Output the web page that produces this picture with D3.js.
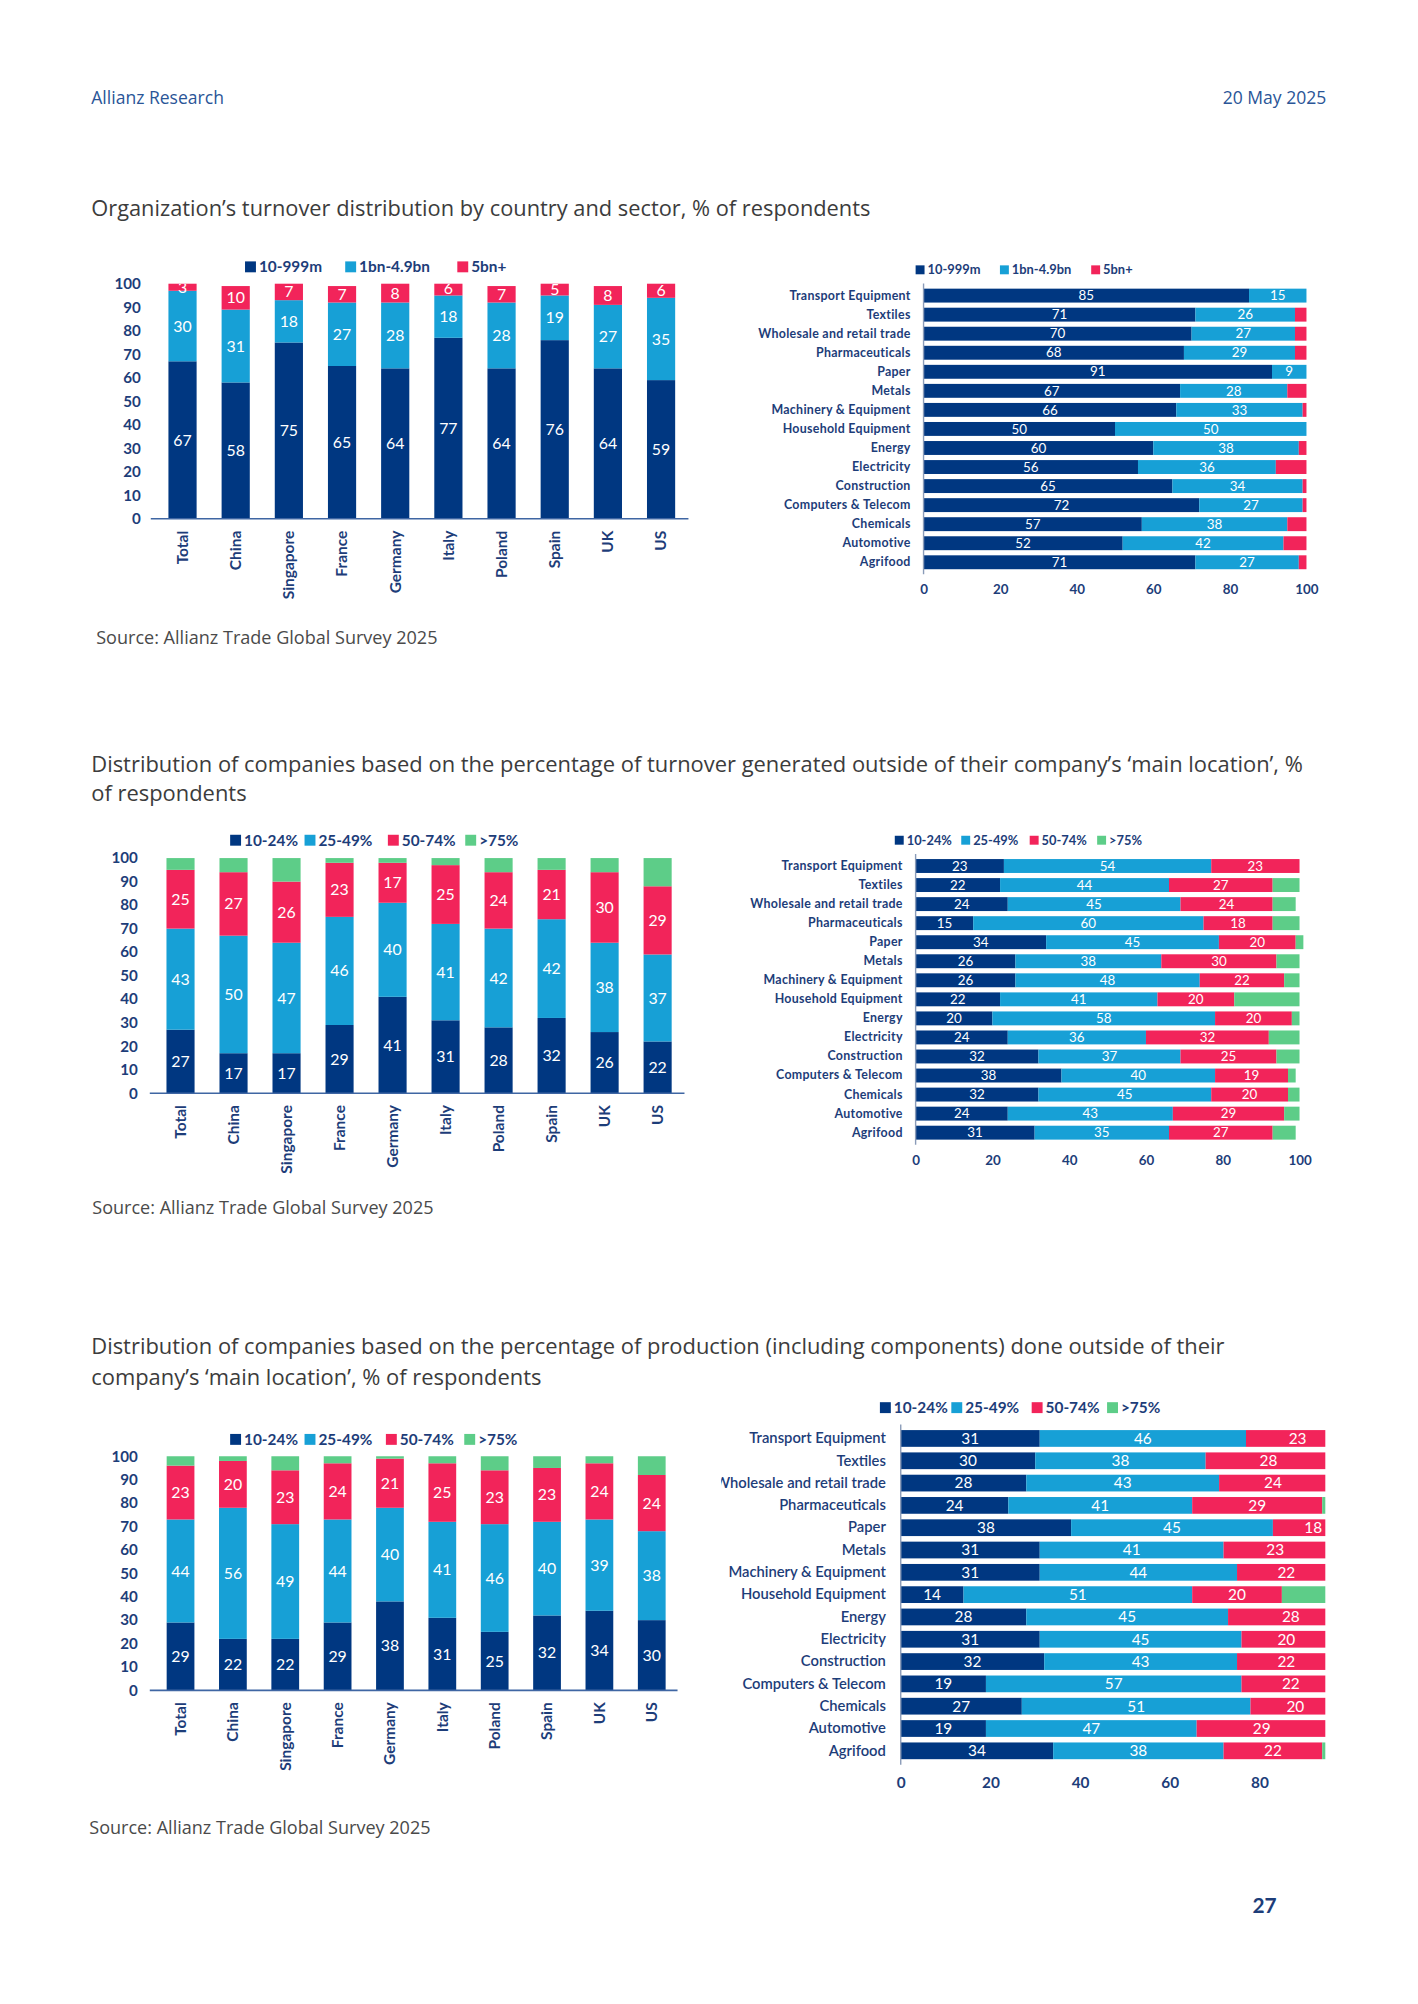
<!DOCTYPE html>
<html><head><meta charset="utf-8">
<script src="https://cdn.jsdelivr.net/npm/d3@7"></script>
<style>
html,body{margin:0;padding:0;background:#fff;}
svg{display:block;font-family:Lato,"Open Sans",sans-serif;}
</style></head><body>
<svg id="page" width="1418" height="2004"></svg>
<script>
// ---------- DATA ----------
const countries = ["Total","China","Singapore","France","Germany","Italy","Poland","Spain","UK","US"];
const sectors = ["Transport Equipment","Textiles","Wholesale and retail trade","Pharmaceuticals","Paper","Metals","Machinery & Equipment","Household Equipment","Energy","Electricity","Construction","Computers & Telecom","Chemicals","Automotive","Agrifood"];
const turnoverSeries = ["10-999m","1bn-4.9bn","5bn+"];
const shareSeries = ["10-24%","25-49%","50-74%",">75%"];
const yTicks = [0,10,20,30,40,50,60,70,80,90,100];
const xTicksSector = [0,20,40,60,80,100];
const xTicksSector3 = [0,20,40,60,80];

// Chart 1 – turnover by country
const c1Small = [67,58,75,65,64,77,64,76,64,59];
const c1Mid   = [30,31,18,27,28,18,28,19,27,35];
const c1Large = [3,10,7,7,8,6,7,5,8,6];
// Chart 1 – turnover by sector
const s1Small = [85,71,70,68,91,67,66,50,60,56,65,72,57,52,71];
const s1Mid   = [15,26,27,29,9,28,33,50,38,36,34,27,38,42,27];
const s1Large = [0,3,3,3,0,5,1,0,2,8,1,1,5,6,2];

// Chart 2 – turnover outside main location, by country
const c2A = [27,17,17,29,41,31,28,32,26,22];
const c2B = [43,50,47,46,40,41,42,42,38,37];
const c2C = [25,27,26,23,17,25,24,21,30,29];
const c2D = [5,6,10,2,2,3,6,5,6,12];
// Chart 2 – by sector
const s2A = [23,22,24,15,34,26,26,22,20,24,32,38,32,24,31];
const s2B = [54,44,45,60,45,38,48,41,58,36,37,40,45,43,35];
const s2C = [23,27,24,18,20,30,22,20,20,32,25,19,20,29,27];
const s2D = [0,7,6,7,2,6,4,17,2,8,6,2,3,4,6];

// Chart 3 – production outside main location, by country
const c3A = [29,22,22,29,38,31,25,32,34,30];
const c3B = [44,56,49,44,40,41,46,40,39,38];
const c3C = [23,20,23,24,21,25,23,23,24,24];
const c3D = [4,2,6,3,1,3,6,5,3,8];
// Chart 3 – by sector
const s3A = [31,30,28,24,38,31,31,14,28,31,32,19,27,19,34];
const s3B = [46,38,43,41,45,41,44,51,45,45,43,57,51,47,38];
const s3C = [23,28,24,29,18,23,22,20,28,20,22,22,20,29,22];
const s3D = [0,4,5,6,0,5,3,15,0,4,3,2,2,5,6];

// ---------- STYLE ----------
const colors = ["#003781","#17a0d6","#f2245a","#5dcd88"];
const axisText = "#1d3d79";
const svg = d3.select("#page");
const root = svg.append("g").attr("transform","scale(0.992)");

function txt(x,y,s,opt={}){
  return root.append("text").attr("x",x).attr("y",y).attr("dy","0.35em")
    .attr("font-family",opt.family||"'Open Sans'")
    .attr("font-size",opt.size||16).attr("font-weight",opt.weight||400)
    .attr("fill",opt.fill||"#3c3c3c").attr("text-anchor",opt.anchor||"start").text(s);
}

function legend(names, cfg){
  const g = root.append("g");
  names.forEach((n,i)=>{
    const x = cfg.xs[i];
    g.append("rect").attr("x",x).attr("y",cfg.y-cfg.sq/2).attr("width",cfg.sq).attr("height",cfg.sq).attr("fill",colors[i]);
    g.append("text").attr("x",x+cfg.sq+3).attr("y",cfg.y).attr("dy","0.35em")
      .attr("font-size",cfg.size).attr("font-weight",700).attr("fill",axisText).text(n);
  });
}

function stackRows(keys, series){
  return keys.map((c,i)=>{ let acc=0; return series.map((s,k)=>{ const v=s[i]; const d={c,k,v,a:acc,b:acc+v}; acc+=v; return d; }); }).flat();
}

let clipId = 0;
function drawColumns(series, names, cfg){
  const g = root.append("g");
  const x = d3.scaleBand().domain(countries).range(cfg.xRange).padding(0.47);
  const y = d3.scaleLinear().domain([0,100]).range([cfg.y0, cfg.y100]);
  const rows = stackRows(countries, series);
  g.selectAll("rect").data(rows).join("rect")
    .attr("x",d=>x(d.c)).attr("width",x.bandwidth())
    .attr("y",d=>y(Math.min(d.b,100))).attr("height",d=>y(d.a)-y(Math.min(d.b,100)))
    .attr("fill",d=>colors[d.k]);
  const id = "clip"+(clipId++);
  root.append("clipPath").attr("id",id).append("rect")
    .attr("x",cfg.xRange[0]).attr("y",cfg.y100).attr("width",cfg.xRange[1]-cfg.xRange[0]).attr("height",cfg.y0-cfg.y100);
  g.append("g").attr("clip-path",`url(#${id})`)
    .selectAll("text").data(rows.filter(d=>cfg.labelMask[d.k] && d.v>0)).join("text")
    .attr("x",d=>x(d.c)+x.bandwidth()/2).attr("y",d=>y((d.a+d.b)/2)).attr("dy","0.35em")
    .attr("text-anchor","middle").attr("fill","#fff").attr("font-size",cfg.valFont).text(d=>d.v);
  // y axis
  const ya = g.append("g").attr("transform",`translate(${cfg.yAxisX},0)`)
    .call(d3.axisLeft(y).tickValues(yTicks).tickSize(0).tickPadding(0));
  ya.select(".domain").remove();
  ya.selectAll("text").attr("font-size",cfg.tickFont).attr("font-weight",700).attr("fill",axisText).attr("font-family","Lato");
  // baseline
  g.append("line").attr("x1",cfg.axisLine[0]).attr("x2",cfg.axisLine[1]).attr("y1",cfg.y0).attr("y2",cfg.y0)
    .attr("stroke","#3f66a3").attr("stroke-width",1.6);
  // x labels
  const xa = g.append("g").attr("transform",`translate(0,${cfg.y0})`).call(d3.axisBottom(x).tickSize(0));
  xa.select(".domain").remove();
  xa.selectAll("text").attr("transform","rotate(-90)").attr("x",-cfg.xLabPad).attr("y",0).attr("dy","0.35em")
    .attr("text-anchor","end").attr("font-size",cfg.catFont).attr("font-weight",700).attr("fill",axisText).attr("font-family","Lato");
  legend(names, cfg.legend);
}

function drawBars(series, names, cfg){
  const g = root.append("g");
  const y = d3.scaleBand().domain(sectors).range(cfg.yRange).padding(cfg.pad);
  const x = d3.scaleLinear().domain([0,100]).range(cfg.xRange);
  const rows = stackRows(sectors, series);
  const id = "clip"+(clipId++);
  const cl = cfg.clip || [0,1500];
  root.append("clipPath").attr("id",id).append("rect").attr("x",cl[0]).attr("y",0).attr("width",cl[1]-cl[0]).attr("height",2100);
  const pg = g.append("g").attr("clip-path",`url(#${id})`);
  pg.selectAll("rect").data(rows).join("rect")
    .attr("y",d=>y(d.c)).attr("height",y.bandwidth())
    .attr("x",d=>x(d.a)).attr("width",d=>x(d.b)-x(d.a)).attr("fill",d=>colors[d.k]);
  pg.append("g").selectAll("text").data(rows.filter(d=>cfg.labelMask[d.k] && d.v>0)).join("text")
    .attr("x",d=>x((d.a+d.b)/2)).attr("y",d=>y(d.c)+y.bandwidth()/2).attr("dy","0.35em")
    .attr("text-anchor","middle").attr("fill","#fff").attr("font-size",cfg.valFont).text(d=>d.v);
  // category axis
  const ya = pg.append("g").attr("transform",`translate(${x(0)},0)`).call(d3.axisLeft(y).tickSize(0).tickPadding(cfg.catPad));
  ya.select(".domain").remove();
  ya.selectAll("text").attr("font-size",cfg.catFont).attr("font-weight",cfg.catWeight||700)
    .attr("letter-spacing",cfg.catSpacing||0).attr("fill",axisText).attr("font-family","Lato");
  g.append("line").attr("x1",x(0)).attr("x2",x(0)).attr("y1",cfg.yRange[0]).attr("y2",cfg.yRange[1])
    .attr("stroke","#8a9bb8").attr("stroke-width",1.4);
  // value axis
  const xa = g.append("g").attr("transform",`translate(0,${cfg.tickY})`).call(d3.axisBottom(x).tickValues(cfg.ticks).tickSize(0));
  xa.select(".domain").remove();
  xa.selectAll("text").attr("y",0).attr("dy","0.35em").attr("font-size",cfg.tickFont).attr("font-weight",700).attr("fill",axisText).attr("font-family","Lato");
  legend(names, cfg.legend);
}

// ---------- PAGE ----------
txt(92,99,"Allianz Research",{size:17.7,fill:"#2a5597"});
txt(1337,99,"20 May 2025",{size:17.7,fill:"#2a5597",anchor:"end"});
txt(92,210,"Organization\u2019s turnover distribution by country and sector, % of respondents",{size:22});

drawColumns([c1Small,c1Mid,c1Large], turnoverSeries, {
  xRange:[144.6,705.8], y0:523, y100:286, yAxisX:142, axisLine:[152,694], xLabPad:12,
  valFont:16, tickFont:15.3, catFont:15.6, labelMask:[true,true,true],
  legend:{y:269, xs:[247,348,461], size:15.5, sq:11}
});
drawBars([s1Small,s1Mid,s1Large], turnoverSeries, {
  xRange:[931,1317], yRange:[285.8,579], pad:0.27, tickY:594, ticks:xTicksSector, catPad:13,
  valFont:13.5, tickFont:13.5, catFont:12.5, catSpacing:0.3, labelMask:[true,true,false],
  legend:{y:272, xs:[923,1008,1100], size:13, sq:9}
});
txt(97,643,"Source: Allianz Trade Global Survey 2025",{size:18.2,fill:"#4a4a4a"});

txt(92,770,"Distribution of companies based on the percentage of turnover generated outside of their company\u2019s \u2018main location\u2019, %",{size:22.1});
txt(92,800,"of respondents",{size:22.1});

drawColumns([c2A,c2B,c2C,c2D], shareSeries, {
  xRange:[142.7,702.2], y0:1102, y100:865, yAxisX:139, axisLine:[151,690], xLabPad:12,
  valFont:16, tickFont:15.3, catFont:15.6, labelMask:[true,true,true,false],
  legend:{y:847, xs:[232,307,391,469], size:15.5, sq:11}
});
drawBars([s2A,s2B,s2C,s2D], shareSeries, {
  xRange:[923,1310], yRange:[860.8,1154], pad:0.27, tickY:1170, ticks:xTicksSector, catPad:13,
  valFont:13.5, tickFont:13.5, catFont:12.5, catSpacing:0.3, labelMask:[true,true,true,false],
  legend:{y:847, xs:[902,969,1038,1106], size:13, sq:9}
});
txt(93,1217,"Source: Allianz Trade Global Survey 2025",{size:18.2,fill:"#4a4a4a"});

txt(92,1357,"Distribution of companies based on the percentage of production (including components) done outside of their",{size:22.1});
txt(92,1388,"company\u2019s \u2018main location\u2019, % of respondents",{size:22.1});

drawColumns([c3A,c3B,c3C,c3D], shareSeries, {
  xRange:[143.2,695.8], y0:1704, y100:1468, yAxisX:139, axisLine:[151,683], xLabPad:12,
  valFont:16, tickFont:15.3, catFont:15.6, labelMask:[true,true,true,false],
  legend:{y:1451, xs:[232,307,389,468], size:15.5, sq:11}
});
drawBars([s3A,s3B,s3C,s3D], shareSeries, {
  xRange:[908,1360], yRange:[1436,1779], pad:0.25, tickY:1797, ticks:xTicksSector3, catPad:15,
  valFont:15.5, tickFont:15.5, catFont:14.9, catWeight:600, labelMask:[true,true,true,false],
  clip:[727,1336],
  legend:{y:1419, xs:[887,959,1040,1116], size:15.5, sq:11}
});
txt(90,1842,"Source: Allianz Trade Global Survey 2025",{size:18.2,fill:"#4a4a4a"});

txt(1287,1921,"27",{size:21,weight:700,fill:"#1d3d79",anchor:"end",family:"Lato"});
</script>
</body></html>
